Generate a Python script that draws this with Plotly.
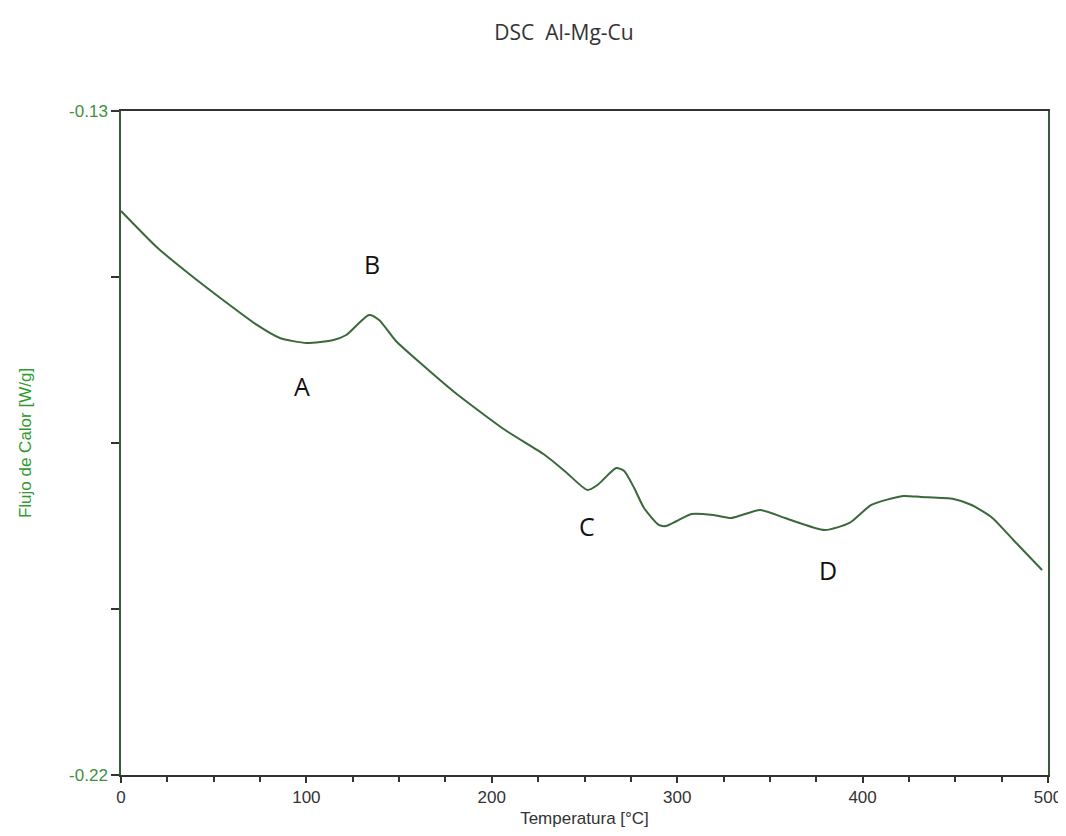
import plotly.graph_objects as go

temperature = [0, 19.8, 37.5, 55.7, 73.3, 85.7, 100.1, 114.6, 121.5, 133.8, 139.2, 148.3,
               162.7, 180.4, 207.2, 228.6, 239.3, 251.6, 257.0, 267.1, 271.4, 276.8, 282.1,
               290.1, 293.9, 299.8, 307.8, 319.6, 329.2, 344.8, 358.1, 379.6, 392.9, 404.7,
               421.8, 431.5, 449.1, 458.8, 470.0, 481.8, 496.8]
heat_flow = [-0.14355, -0.14857, -0.15223, -0.15575, -0.15900, -0.16077, -0.16145, -0.16104,
             -0.16036, -0.15765, -0.15833, -0.16117, -0.16443, -0.16822, -0.17324, -0.17663,
             -0.17879, -0.18137, -0.18069, -0.17839, -0.17879, -0.18110, -0.18381, -0.18611,
             -0.18625, -0.18557, -0.18462, -0.18476, -0.18516, -0.18408, -0.18516, -0.18679,
             -0.18584, -0.18340, -0.18218, -0.18232, -0.18259, -0.18340, -0.18516, -0.18828,
             -0.19221]

label_text = ["A", "B", "C", "D"]
label_x = [97.4, 135.4, 251.1, 381.2]
label_y = [-0.16727, -0.15074, -0.18625, -0.19221]

x_tick_vals = [0, 100, 200, 300, 400, 500]
x_tick_text = ["0", "100", "200", "300", "400", "500"]
y_tick_vals = [-0.13, -0.1525, -0.175, -0.1975, -0.22]
y_tick_text = ["-0.13", "", "", "", "-0.22"]

fig = go.Figure()
fig.add_trace(go.Scatter(x=temperature, y=heat_flow, mode="lines",
                         line=dict(color="#3a683a", width=2, shape="spline", smoothing=0.6),
                         showlegend=False, hoverinfo="skip"))

for t, xx, yy in zip(label_text, label_x, label_y):
    fig.add_annotation(x=xx, y=yy, text=t, showarrow=False,
                       font=dict(family="Open Sans", size=25, color="#111111"))

fig.update_layout(
    width=1066, height=836,
    margin=dict(l=113, r=19, t=103, b=69),
    paper_bgcolor="white", plot_bgcolor="white",
    title=dict(text="DSC  Al-Mg-Cu", x=556/1066, xanchor="center", y=1-25/836, yanchor="middle",
               font=dict(family="Open Sans", size=21, color="#333333")),
    xaxis=dict(range=[0, 500], tickvals=x_tick_vals, ticktext=x_tick_text,
               ticks="outside", ticklen=6, tickcolor="#333333", tickwidth=1.5,
               minor=dict(dtick=25, ticks="outside", ticklen=5, tickcolor="#333333", showgrid=False),
               showgrid=False, zeroline=False, showline=True, linecolor="#333333", linewidth=1.5,
               mirror=True,
               tickfont=dict(family="Liberation Sans", size=17, color="#333333"),
               title=dict(text="Temperatura [°C]", standoff=6,
                          font=dict(family="Liberation Sans", size=17, color="#333333"))),
    yaxis=dict(range=[-0.22, -0.13], tickvals=y_tick_vals, ticktext=y_tick_text,
               ticks="outside", ticklen=8, tickcolor="#333333", tickwidth=1.5,
               showgrid=False, zeroline=False, showline=True, linecolor="#3b5a3b", linewidth=1.5,
               mirror=True,
               tickfont=dict(family="Liberation Sans", size=17, color="#3f8f3f"),
               title=dict(text="Flujo de Calor [W/g]", standoff=33,
                          font=dict(family="Liberation Sans", size=17, color="#2f9a2f"))),
)

fig.write_html("out.html")
